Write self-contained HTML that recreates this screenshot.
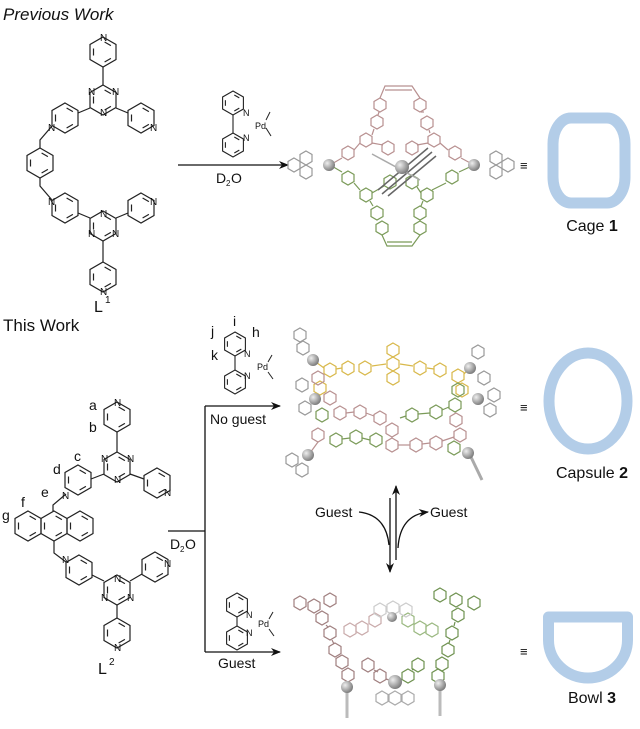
<!DOCTYPE html>
<html><head><meta charset="utf-8"><style>
html,body{margin:0;padding:0;background:#fff}
svg{display:block}
text{font-family:"Liberation Sans",sans-serif;fill:#111}
</style></head><body>
<svg width="640" height="729" viewBox="0 0 640 729" xmlns="http://www.w3.org/2000/svg">
<defs>
<g id="H" fill="none" stroke="#222" stroke-width="1.2"><polygon points="0,-15 13,-7.5 13,7.5 0,15 -13,7.5 -13,-7.5"/><line x1="1.6" y1="-10" x2="7.9" y2="-6.4"/><line x1="7.9" y1="6.4" x2="1.6" y2="10"/><line x1="-9.5" y1="-3.5" x2="-9.5" y2="3.5"/></g>
<g id="B" fill="none" stroke="#222" stroke-width="1.1"><polygon points="0,-12 10.4,-6 10.4,6 0,12 -10.4,6 -10.4,-6"/><line x1="1.3" y1="-8" x2="6.3" y2="-5.1"/><line x1="6.3" y1="5.1" x2="1.3" y2="8"/><line x1="-7.6" y1="-2.8" x2="-7.6" y2="2.8"/></g>
<polygon id="s" points="0,-7 6,-3.5 6,3.5 0,7 -6,3.5 -6,-3.5" fill="none" stroke-width="1.2"/>
<radialGradient id="sp" cx="0.35" cy="0.35" r="0.7"><stop offset="0" stop-color="#eee"/><stop offset="1" stop-color="#777"/></radialGradient>
<marker id="ar" markerWidth="10" markerHeight="8" refX="9" refY="4" orient="auto" markerUnits="userSpaceOnUse"><path d="M0,0 L10,4 L0,8 L3,4z" fill="#111"/></marker>
</defs>

<text x="3" y="20" font-size="17" font-style="italic">Previous Work</text>
<text x="3" y="331" font-size="17">This Work</text>

<!-- L1 -->
<g>
<use href="#H" x="103" y="52"/><line x1="103" y1="67" x2="103" y2="85" stroke="#222" stroke-width="1.2"/>
<use href="#H" x="103" y="100"/>
<line x1="90" y1="108" x2="78" y2="113" stroke="#222" stroke-width="1.2"/><line x1="116" y1="108" x2="128" y2="113" stroke="#222" stroke-width="1.2"/>
<use href="#H" x="65" y="118"/><use href="#H" x="141" y="118"/>
<polyline points="52,126 40,140 40,148" fill="none" stroke="#222" stroke-width="1.2"/>
<use href="#H" x="40" y="163"/>
<polyline points="40,178 40,186 52,200" fill="none" stroke="#222" stroke-width="1.2"/>
<use href="#H" x="65" y="208"/><use href="#H" x="141" y="208"/>
<line x1="78" y1="213" x2="90" y2="218" stroke="#222" stroke-width="1.2"/><line x1="116" y1="218" x2="128" y2="213" stroke="#222" stroke-width="1.2"/>
<use href="#H" x="103" y="226"/>
<line x1="103" y1="241" x2="103" y2="262" stroke="#222" stroke-width="1.2"/>
<use href="#H" x="103" y="277"/>
<g font-size="10"><text x="100" y="41">N</text><text x="88" y="95">N</text><text x="112" y="95">N</text><text x="100" y="116">N</text><text x="48" y="131">N</text><text x="150" y="131">N</text><text x="48" y="205">N</text><text x="150" y="205">N</text><text x="100" y="217">N</text><text x="88" y="237">N</text><text x="112" y="237">N</text><text x="100" y="295">N</text></g>
<text x="94" y="312" font-size="16">L</text><text x="105" y="303" font-size="10">1</text>
</g>

<!-- bipy 1 -->
<g><use href="#B" x="233" y="103"/><use href="#B" x="233" y="145"/>
<line x1="233" y1="115" x2="233" y2="133" stroke="#222" stroke-width="1.1"/>
<text x="243" y="116" font-size="9">N</text><text x="243" y="141" font-size="9">N</text><text x="255" y="129" font-size="9">Pd</text>
<line x1="266" y1="120" x2="270" y2="112" stroke="#222"/><line x1="266" y1="128" x2="271" y2="136" stroke="#222"/></g>
<line x1="178" y1="165" x2="288" y2="165" stroke="#111" stroke-width="1.3" marker-end="url(#ar)"/>
<text x="216" y="183" font-size="14">D</text><text x="226" y="186" font-size="8">2</text><text x="231" y="183" font-size="14">O</text>

<!-- Cage1 structure -->
<g stroke="#b89090" fill="none" stroke-width="1.2">
<use href="#s" x="348" y="153" stroke="#b89090"/><use href="#s" x="366" y="140" stroke="#b89090"/><use href="#s" x="377" y="122" stroke="#b89090"/><use href="#s" x="380" y="105" stroke="#b89090"/>
<use href="#s" x="420" y="105" stroke="#b89090"/><use href="#s" x="427" y="123" stroke="#b89090"/><use href="#s" x="434" y="140" stroke="#b89090"/><use href="#s" x="455" y="153" stroke="#b89090"/>
<use href="#s" x="388" y="148" stroke="#b89090"/><use href="#s" x="412" y="148" stroke="#b89090"/>
<polyline points="380,98 385,86 412,86 420,98"/><line x1="385" y1="90" x2="412" y2="90"/>
<polyline points="330,165 342,158"/><polyline points="474,165 461,158"/>
<line x1="354" y1="150" x2="360" y2="143"/><line x1="372" y1="135" x2="374" y2="129"/><line x1="378" y1="115" x2="379" y2="112"/>
<line x1="448" y1="150" x2="440" y2="143"/><line x1="430" y1="133" x2="429" y2="130"/><line x1="424" y1="112" x2="421" y2="112"/>
<line x1="372" y1="143" x2="383" y2="145"/><line x1="428" y1="143" x2="417" y2="145"/>
</g>
<g stroke="#7a9a58" fill="none" stroke-width="1.2">
<use href="#s" x="348" y="178" stroke="#7a9a58"/><use href="#s" x="366" y="195" stroke="#7a9a58"/><use href="#s" x="377" y="213" stroke="#7a9a58"/><use href="#s" x="382" y="228" stroke="#7a9a58"/>
<use href="#s" x="420" y="213" stroke="#7a9a58"/><use href="#s" x="427" y="195" stroke="#7a9a58"/><use href="#s" x="452" y="177" stroke="#7a9a58"/><use href="#s" x="420" y="228" stroke="#7a9a58"/>
<use href="#s" x="390" y="182" stroke="#7a9a58"/><use href="#s" x="412" y="182" stroke="#7a9a58"/>
<polyline points="382,235 387,246 412,246 420,235"/><line x1="387" y1="242" x2="412" y2="242"/>
<line x1="330" y1="165" x2="342" y2="172"/><line x1="474" y1="165" x2="459" y2="172"/>
<line x1="354" y1="183" x2="360" y2="190"/><line x1="370" y1="201" x2="373" y2="206"/><line x1="446" y1="183" x2="432" y2="190"/><line x1="423" y1="201" x2="421" y2="206"/>
<line x1="372" y1="193" x2="384" y2="186"/><line x1="421" y1="193" x2="417" y2="187"/>
</g>
<g stroke="#666" fill="none" stroke-width="1.5"><line x1="378" y1="190" x2="428" y2="148"/><line x1="382" y1="194" x2="432" y2="152"/><line x1="388" y1="196" x2="436" y2="156"/><line x1="372" y1="154" x2="420" y2="180" stroke="#aaa"/></g>
<g stroke="#999"><use href="#s" x="306" y="158" stroke="#999"/><use href="#s" x="306" y="172" stroke="#999"/><use href="#s" x="294" y="165" stroke="#999"/>
<use href="#s" x="496" y="158" stroke="#999"/><use href="#s" x="496" y="172" stroke="#999"/><use href="#s" x="508" y="165" stroke="#999"/></g>
<circle cx="329" cy="165" r="6" fill="url(#sp)"/><circle cx="402" cy="167" r="7" fill="url(#sp)"/><circle cx="474" cy="165" r="6" fill="url(#sp)"/>

<text x="520" y="170" font-size="13">≡</text>
<rect x="553" y="118" width="72" height="85" rx="18" ry="26" fill="none" stroke="#b3cde8" stroke-width="11"/>
<text x="592" y="231" font-size="16" text-anchor="middle">Cage <tspan font-weight="bold">1</tspan></text>

<!-- bipy 2 -->
<g><use href="#B" x="235" y="344"/><use href="#B" x="235" y="382"/>
<line x1="235" y1="356" x2="235" y2="370" stroke="#222" stroke-width="1.1"/>
<text x="244" y="357" font-size="9">N</text><text x="244" y="379" font-size="9">N</text><text x="257" y="370" font-size="9">Pd</text>
<line x1="268" y1="362" x2="272" y2="355" stroke="#222"/><line x1="268" y1="372" x2="273" y2="379" stroke="#222"/>
<g font-size="14"><text x="233" y="326">i</text><text x="211" y="336">j</text><text x="252" y="337">h</text><text x="211" y="360">k</text></g></g>

<!-- L2 -->
<g>
<use href="#H" x="117" y="417"/><line x1="117" y1="432" x2="117" y2="452" stroke="#222" stroke-width="1.2"/>
<use href="#H" x="117" y="467"/>
<line x1="104" y1="474" x2="91" y2="479" stroke="#222" stroke-width="1.2"/><line x1="130" y1="474" x2="144" y2="479" stroke="#222" stroke-width="1.2"/>
<use href="#H" x="78" y="480"/><use href="#H" x="157" y="483"/>
<polyline points="66,494 53,505 53,511" fill="none" stroke="#222" stroke-width="1.2"/>
<use href="#H" x="28" y="526"/><use href="#H" x="54" y="526"/><use href="#H" x="80" y="526"/>
<polyline points="54,541 54,553 66,562" fill="none" stroke="#222" stroke-width="1.2"/>
<use href="#H" x="79" y="570"/><use href="#H" x="155" y="567"/>
<line x1="92" y1="575" x2="104" y2="581" stroke="#222" stroke-width="1.2"/><line x1="130" y1="581" x2="142" y2="574" stroke="#222" stroke-width="1.2"/>
<use href="#H" x="117" y="590"/>
<line x1="117" y1="605" x2="117" y2="618" stroke="#222" stroke-width="1.2"/>
<use href="#H" x="117" y="633"/>
<g font-size="10"><text x="114" y="406">N</text><text x="101" y="462">N</text><text x="127" y="462">N</text><text x="114" y="483">N</text><text x="62" y="499">N</text><text x="164" y="496">N</text><text x="62" y="563">N</text><text x="164" y="567">N</text><text x="114" y="582">N</text><text x="101" y="601">N</text><text x="127" y="601">N</text><text x="114" y="651">N</text></g>
<g font-size="14"><text x="89" y="410">a</text><text x="89" y="432">b</text><text x="74" y="461">c</text><text x="53" y="474">d</text><text x="41" y="497">e</text><text x="21" y="507">f</text><text x="2" y="520">g</text></g>
<text x="98" y="674" font-size="16">L</text><text x="109" y="665" font-size="10">2</text>
</g>

<!-- branching arrows -->
<g stroke="#111" stroke-width="1.3" fill="none">
<line x1="168" y1="531" x2="205" y2="531"/>
<line x1="205" y1="406" x2="205" y2="652"/>
<line x1="205" y1="406" x2="280" y2="406" marker-end="url(#ar)"/>
<line x1="205" y1="652" x2="280" y2="652" marker-end="url(#ar)"/>
</g>
<text x="210" y="424" font-size="14">No guest</text>
<text x="218" y="668" font-size="14">Guest</text>
<text x="170" y="549" font-size="14">D</text><text x="180" y="552" font-size="8">2</text><text x="185" y="549" font-size="14">O</text>

<!-- bipy 3 -->
<g><use href="#B" x="237" y="605"/><use href="#B" x="237" y="638"/>
<line x1="237" y1="617" x2="237" y2="626" stroke="#222" stroke-width="1.1"/>
<text x="246" y="618" font-size="9">N</text><text x="246" y="636" font-size="9">N</text><text x="258" y="627" font-size="9">Pd</text>
<line x1="269" y1="619" x2="273" y2="612" stroke="#222"/><line x1="269" y1="629" x2="274" y2="636" stroke="#222"/></g>

<!-- Capsule structure -->
<g fill="none" stroke-width="1.2">
<g stroke="#d8b84a"><use href="#s" x="330" y="370" stroke="#d8b84a"/><use href="#s" x="348" y="368" stroke="#d8b84a"/><use href="#s" x="365" y="368" stroke="#d8b84a"/>
<use href="#s" x="393" y="350" stroke="#d8b84a"/><use href="#s" x="393" y="364" stroke="#d8b84a"/><use href="#s" x="393" y="378" stroke="#d8b84a"/>
<use href="#s" x="420" y="368" stroke="#d8b84a"/><use href="#s" x="440" y="370" stroke="#d8b84a"/><use href="#s" x="458" y="376" stroke="#d8b84a"/><use href="#s" x="462" y="390" stroke="#d8b84a"/><use href="#s" x="320" y="388" stroke="#d8b84a"/>
<line x1="372" y1="366" x2="386" y2="364"/><line x1="400" y1="364" x2="413" y2="366"/><line x1="336" y1="369" x2="342" y2="368"/><line x1="427" y1="368" x2="434" y2="369"/><line x1="313" y1="360" x2="324" y2="368"/><line x1="470" y1="368" x2="464" y2="374"/></g>
<g stroke="#b89090"><use href="#s" x="318" y="378" stroke="#b89090"/><use href="#s" x="330" y="398" stroke="#b89090"/><use href="#s" x="340" y="413" stroke="#b89090"/><use href="#s" x="360" y="412" stroke="#b89090"/><use href="#s" x="380" y="418" stroke="#b89090"/>
<use href="#s" x="392" y="430" stroke="#b89090"/><use href="#s" x="392" y="445" stroke="#b89090"/><use href="#s" x="416" y="445" stroke="#b89090"/><use href="#s" x="436" y="443" stroke="#b89090"/><use href="#s" x="460" y="435" stroke="#b89090"/><use href="#s" x="456" y="420" stroke="#b89090"/><use href="#s" x="318" y="435" stroke="#b89090"/>
<line x1="346" y1="413" x2="354" y2="412"/><line x1="366" y1="413" x2="374" y2="416"/><line x1="398" y1="445" x2="410" y2="445"/><line x1="422" y1="444" x2="430" y2="443"/><line x1="442" y1="441" x2="454" y2="437"/><line x1="318" y1="442" x2="310" y2="453"/></g>
<g stroke="#7a9a58"><use href="#s" x="322" y="415" stroke="#7a9a58"/><use href="#s" x="336" y="440" stroke="#7a9a58"/><use href="#s" x="356" y="437" stroke="#7a9a58"/><use href="#s" x="376" y="440" stroke="#7a9a58"/>
<use href="#s" x="412" y="415" stroke="#7a9a58"/><use href="#s" x="436" y="412" stroke="#7a9a58"/><use href="#s" x="455" y="405" stroke="#7a9a58"/><use href="#s" x="458" y="390" stroke="#7a9a58"/><use href="#s" x="454" y="448" stroke="#7a9a58"/>
<line x1="342" y1="439" x2="350" y2="438"/><line x1="362" y1="438" x2="370" y2="440"/><line x1="418" y1="414" x2="430" y2="413"/><line x1="442" y1="410" x2="449" y2="407"/><line x1="400" y1="418" x2="406" y2="416"/></g>
<g stroke="#999"><use href="#s" x="300" y="335" stroke="#999"/><use href="#s" x="303" y="348" stroke="#999"/><use href="#s" x="302" y="385" stroke="#999"/><use href="#s" x="305" y="408" stroke="#999"/>
<use href="#s" x="292" y="460" stroke="#999"/><use href="#s" x="302" y="470" stroke="#999"/><use href="#s" x="478" y="352" stroke="#999"/><use href="#s" x="484" y="378" stroke="#999"/><use href="#s" x="494" y="395" stroke="#999"/><use href="#s" x="490" y="410" stroke="#999"/>
<line x1="470" y1="455" x2="482" y2="480" stroke="#aaa" stroke-width="3"/></g>
</g>
<circle cx="313" cy="360" r="6" fill="url(#sp)"/><circle cx="315" cy="399" r="6" fill="url(#sp)"/><circle cx="308" cy="455" r="6" fill="url(#sp)"/>
<circle cx="470" cy="368" r="6" fill="url(#sp)"/><circle cx="478" cy="399" r="6" fill="url(#sp)"/><circle cx="468" cy="453" r="6" fill="url(#sp)"/>

<text x="520" y="412" font-size="13">≡</text>
<ellipse cx="588" cy="401" rx="39" ry="48" fill="none" stroke="#b3cde8" stroke-width="11"/>
<text x="592" y="478" font-size="16" text-anchor="middle">Capsule <tspan font-weight="bold">2</tspan></text>

<!-- equilibrium -->
<g stroke="#111" stroke-width="1.3" fill="none">
<line x1="390" y1="498" x2="390" y2="572" marker-end="url(#ar)"/>
<line x1="396" y1="560" x2="396" y2="486" marker-end="url(#ar)"/>
<path d="M359,512 Q386,515 389,545"/>
<path d="M398,548 Q400,515 428,512" marker-end="url(#ar)"/>
</g>
<text x="315" y="517" font-size="14">Guest</text>
<text x="430" y="517" font-size="14">Guest</text>

<!-- Bowl structure -->
<g fill="none" stroke-width="1.2">
<g stroke="#a07f7f"><use href="#s" x="300" y="603" stroke="#a07f7f"/><use href="#s" x="314" y="606" stroke="#a07f7f"/><use href="#s" x="330" y="600" stroke="#a07f7f"/><use href="#s" x="322" y="618" stroke="#a07f7f"/><use href="#s" x="330" y="633" stroke="#a07f7f"/>
<use href="#s" x="335" y="650" stroke="#a07f7f"/><use href="#s" x="342" y="662" stroke="#a07f7f"/><use href="#s" x="348" y="675" stroke="#a07f7f"/><use href="#s" x="368" y="665" stroke="#a07f7f"/><use href="#s" x="380" y="676" stroke="#a07f7f"/>
<use href="#s" x="350" y="630" stroke="#c9aaaa"/><use href="#s" x="362" y="628" stroke="#c9aaaa"/><use href="#s" x="375" y="620" stroke="#c9aaaa"/>
<line x1="326" y1="625" x2="328" y2="627"/><line x1="332" y1="640" x2="334" y2="644"/><line x1="374" y1="670" x2="378" y2="672"/><line x1="386" y1="679" x2="392" y2="681"/></g>
<g stroke="#6f9250"><use href="#s" x="440" y="595" stroke="#6f9250"/><use href="#s" x="456" y="600" stroke="#6f9250"/><use href="#s" x="474" y="603" stroke="#6f9250"/><use href="#s" x="458" y="615" stroke="#6f9250"/><use href="#s" x="452" y="633" stroke="#6f9250"/>
<use href="#s" x="448" y="650" stroke="#6f9250"/><use href="#s" x="442" y="664" stroke="#6f9250"/><use href="#s" x="438" y="676" stroke="#6f9250"/><use href="#s" x="418" y="665" stroke="#6f9250"/><use href="#s" x="408" y="676" stroke="#6f9250"/>
<use href="#s" x="432" y="630" stroke="#9ab880"/><use href="#s" x="420" y="628" stroke="#9ab880"/><use href="#s" x="408" y="620" stroke="#9ab880"/>
<line x1="455" y1="622" x2="454" y2="626"/><line x1="450" y1="640" x2="449" y2="643"/><line x1="412" y1="670" x2="414" y2="669"/><line x1="402" y1="679" x2="398" y2="681"/></g>
<g stroke="#ccc"><use href="#s" x="380" y="610" stroke="#ccc"/><use href="#s" x="393" y="608" stroke="#ccc"/><use href="#s" x="406" y="610" stroke="#ccc"/></g>
<g stroke="#aaa"><use href="#s" x="382" y="698" stroke="#aaa"/><use href="#s" x="395" y="698" stroke="#aaa"/><use href="#s" x="408" y="698" stroke="#aaa"/></g>
<g stroke="#bbb" stroke-width="3"><line x1="347" y1="692" x2="347" y2="718"/><line x1="440" y1="690" x2="440" y2="716"/></g>
</g>
<circle cx="392" cy="617" r="5" fill="url(#sp)"/><circle cx="395" cy="682" r="7" fill="url(#sp)"/>
<circle cx="347" cy="687" r="6" fill="url(#sp)"/><circle cx="440" cy="685" r="6" fill="url(#sp)"/>

<text x="520" y="656" font-size="13">≡</text>
<path d="M548.5,617 L627.5,617 L627.5,640 A39.5,38 0 0 1 548.5,640 Z" fill="none" stroke="#b3cde8" stroke-width="11" stroke-linejoin="round"/>
<text x="592" y="703" font-size="16" text-anchor="middle">Bowl <tspan font-weight="bold">3</tspan></text>
</svg>
</body></html>
